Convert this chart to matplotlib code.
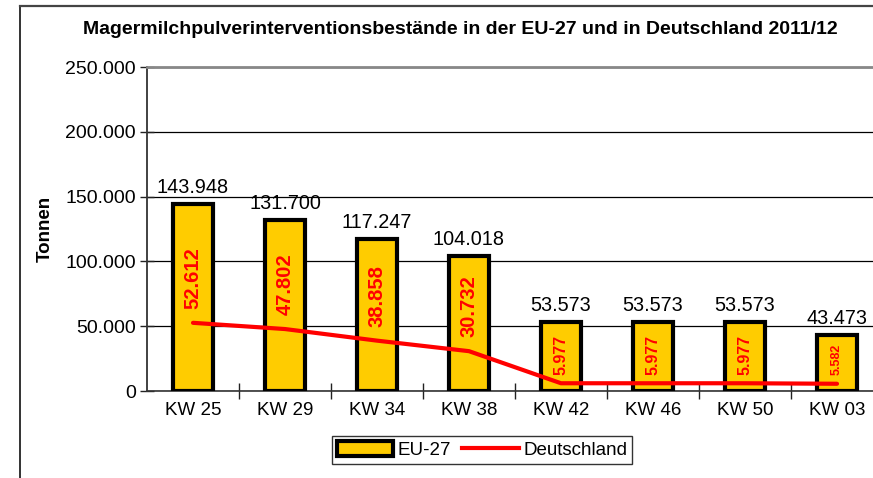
import matplotlib
matplotlib.use("Agg")
import matplotlib.pyplot as plt
from matplotlib.lines import Line2D
from matplotlib.patches import Patch
from matplotlib.ticker import FuncFormatter, FixedLocator

plt.rcParams['font.family'] = ['Liberation Sans', 'DejaVu Sans']

weeks = ["KW 25", "KW 29", "KW 34", "KW 38", "KW 42", "KW 46", "KW 50", "KW 03"]
eu27 = [143948, 131700, 117247, 104018, 53573, 53573, 53573, 43473]
deutschland = [52612, 47802, 38858, 30732, 5977, 5977, 5977, 5582]
de_label_sizes = [14.5, 14.5, 14.5, 14.5, 11.5, 11.5, 11.5, 9]


def de_fmt(v):
    return f"{v:,.0f}".replace(",", ".")


W, H = 873, 478
fig = plt.figure(figsize=(W / 100, H / 100), dpi=100)

# outer chart frame (left and top edges visible)
fig.add_artist(Line2D([20 / W, 20 / W], [0, 1 - 6 / H], transform=fig.transFigure,
                      color="#222222", lw=1.3))
fig.add_artist(Line2D([20 / W, 1], [1 - 6 / H, 1 - 6 / H], transform=fig.transFigure,
                      color="#444444", lw=1.6))

ax = fig.add_axes([147 / W, 87 / H, 736 / W, 324 / H])
x = list(range(len(weeks)))

ax.bar(x, eu27, width=0.43, color="#FFCC00", edgecolor="black", linewidth=3, zorder=3)
ax.plot(x, deutschland, color="#FF0000", lw=3, solid_capstyle="round", zorder=4)

ax.set_xlim(-0.5, len(weeks) - 0.5)
ax.set_ylim(0, 250000)
ax.yaxis.set_major_locator(FixedLocator([0, 50000, 100000, 150000, 200000, 250000]))
ax.yaxis.set_major_formatter(FuncFormatter(lambda v, p: de_fmt(v)))
ax.grid(axis="y", color="black", lw=0.9, zorder=0)
ax.set_axisbelow(True)

ax.set_xticks(x)
ax.set_xticklabels(weeks, fontsize=13.5)
ax.tick_params(axis="x", length=0, pad=8)
ax.set_xticks([i + 0.5 for i in x], minor=True)
ax.tick_params(axis="x", which="minor", direction="inout", length=12, width=1, color="#222222")
ax.tick_params(axis="y", direction="inout", length=10, width=1, labelsize=14, pad=3,
               color="#222222")

ax.spines["right"].set_visible(False)
ax.spines["top"].set_color("#888888")
ax.spines["top"].set_linewidth(2)
ax.spines["left"].set_color("#333333")
ax.spines["left"].set_linewidth(1.3)
ax.spines["bottom"].set_color("#333333")
ax.spines["bottom"].set_linewidth(1.2)

for i, v in enumerate(eu27):
    ax.annotate(de_fmt(v), (i, v), xytext=(0, 5), textcoords="offset points",
                ha="center", va="bottom", fontsize=14.3, zorder=5)

for i, v in enumerate(deutschland):
    off = 10 if v > 10000 else 6
    ax.annotate(de_fmt(v), (i, v), xytext=(0, off), textcoords="offset points",
                ha="center", va="bottom", rotation=90, fontsize=de_label_sizes[i],
                fontweight="bold", color="#FF0000", zorder=6)

ax.set_ylabel("Tonnen", fontsize=13.5, fontweight="bold")
ax.yaxis.set_label_coords(-0.127, 0.5)

fig.text(460 / W, 1 - 30 / H,
         "Magermilchpulverinterventionsbestände in der EU-27 und in Deutschland 2011/12",
         ha="center", va="center", fontsize=14, fontweight="bold")

handles = [Patch(facecolor="#FFCC00", edgecolor="black", linewidth=3, label="EU-27"),
           Line2D([0], [0], color="#FF0000", lw=3, label="Deutschland")]
leg = fig.legend(handles=handles, loc="center", bbox_to_anchor=(482 / W, 1 - 450 / H),
                 ncol=2, fontsize=13.5, frameon=True, fancybox=False, edgecolor="black",
                 handlelength=3.0, handleheight=0.8, columnspacing=0.6, handletextpad=0.25,
                 borderpad=0.25, borderaxespad=0)
leg.get_frame().set_linewidth(1)

fig.savefig("out.png", dpi=100)
